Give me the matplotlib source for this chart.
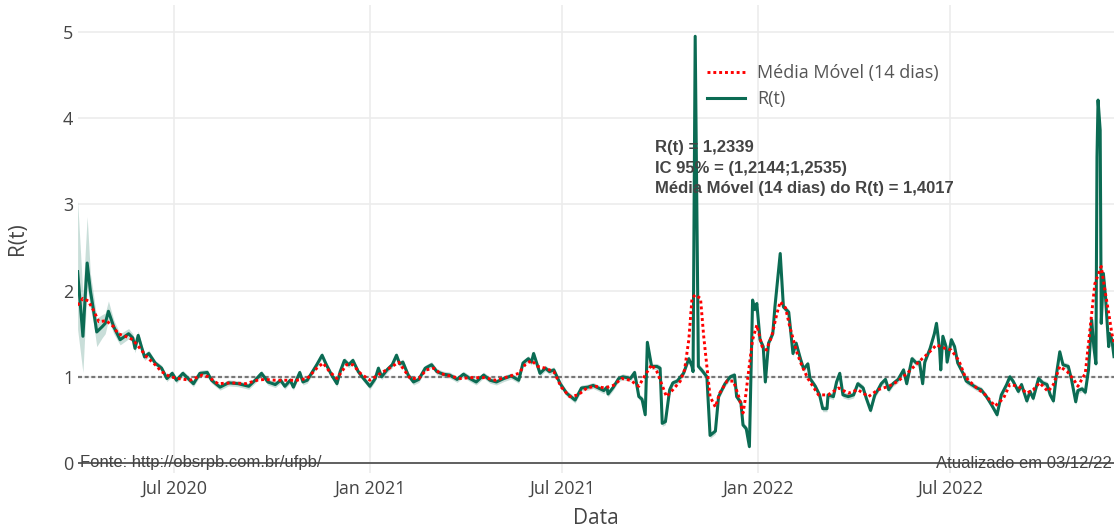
import numpy as np
import matplotlib
matplotlib.use("Agg")
import matplotlib.pyplot as plt
import matplotlib.dates as mdates

# ---- data -------------------------------------------------------------
START = np.datetime64("2020-04-01")

# R(t): days since START and estimated value
r_days = [0, 5, 9, 12, 15, 18, 23, 26, 29, 34, 40, 48, 52, 54, 57, 60, 63, 67, 73,
          79, 84, 89, 93, 99, 109, 115, 122, 126, 134, 142, 151, 161, 167, 173, 179,
          186, 191, 195, 200, 203, 209, 212, 216, 220, 225, 230, 234, 239, 244, 247,
          251, 255, 259, 264, 269, 275, 280, 283, 286, 291, 296, 300, 303, 306, 311,
          316, 321, 327, 333, 338, 344, 350, 357, 363, 369, 375, 382, 388, 394, 401,
          408, 415, 419, 424, 427, 429, 435, 440, 444, 448, 454, 460, 468, 474, 480,
          485, 490, 495, 498, 499, 504, 509, 513, 520, 524, 528, 531, 534, 536, 540,
          545, 548, 550, 553, 557, 560, 564, 570, 575, 578, 579, 581, 584, 587, 592,
          595, 600, 603, 609, 614, 618, 620, 624, 626, 629, 632, 635, 637, 639, 642,
          645, 647, 650, 654, 656, 661, 664, 669, 673, 676, 680, 683, 687, 689, 694,
          698, 701, 705, 706, 711, 714, 717, 720, 725, 730, 734, 739, 742, 746, 750,
          753, 756, 760, 763, 767, 772, 777, 780, 785, 789, 792, 795, 797, 802, 806,
          808, 811, 812, 814, 817, 818, 822, 825, 828, 833, 836, 841, 846, 850, 855,
          860, 865, 869, 874, 877, 880, 885, 888, 893, 896, 899, 904, 908, 912, 915,
          918, 921, 924, 927, 932, 935, 939, 941, 945, 948, 951, 954, 956, 958, 959,
          960, 962, 963, 965, 967, 970, 971, 973, 975]
r_vals = [2.22, 1.47, 2.32, 2.00, 1.77, 1.52, 1.58, 1.62, 1.76, 1.58, 1.43, 1.50, 1.45,
          1.33, 1.48, 1.35, 1.23, 1.27, 1.16, 1.10, 0.98, 1.04, 0.96, 1.04, 0.92, 1.04,
          1.05, 0.96, 0.88, 0.93, 0.92, 0.89, 0.96, 1.04, 0.94, 0.91, 0.96, 0.89, 0.96,
          0.88, 1.05, 0.94, 0.96, 1.04, 1.14, 1.25, 1.14, 1.02, 0.92, 1.06, 1.19, 1.14,
          1.19, 1.06, 0.98, 0.89, 0.98, 1.10, 1.00, 1.08, 1.14, 1.25, 1.15, 1.17, 1.02,
          0.94, 0.97, 1.10, 1.14, 1.06, 1.03, 1.02, 0.97, 1.03, 0.98, 0.94, 1.02, 0.96,
          0.94, 0.98, 1.01, 0.96, 1.16, 1.21, 1.17, 1.27, 1.04, 1.10, 1.06, 1.08, 0.92,
          0.81, 0.73, 0.87, 0.88, 0.90, 0.87, 0.84, 0.88, 0.80, 0.88, 0.98, 1.00, 0.98,
          1.05, 0.77, 0.74, 0.56, 1.40, 1.12, 1.12, 1.10, 0.46, 0.48, 0.85, 0.93, 0.95,
          1.04, 1.21, 1.12, 1.06, 4.95, 1.12, 1.08, 1.00, 0.32, 0.37, 0.77, 0.92, 1.00,
          1.02, 0.77, 0.70, 0.44, 0.40, 0.19, 1.89, 1.78, 1.85, 1.43, 1.35, 0.94, 1.39,
          1.50, 1.81, 2.43, 1.81, 1.75, 1.27, 1.39, 1.21, 1.09, 1.15, 0.98, 0.89, 0.79,
          0.63, 0.63, 0.79, 0.77, 0.94, 1.04, 0.79, 0.77, 0.79, 0.92, 0.87, 0.75, 0.61,
          0.79, 0.85, 0.92, 0.97, 0.85, 0.92, 0.97, 1.08, 0.92, 1.21, 1.16, 1.17, 0.92,
          1.17, 1.33, 1.50, 1.62, 1.31, 1.08, 1.47, 1.35, 1.17, 1.43, 1.35, 1.16, 1.04,
          0.95, 0.91, 0.87, 0.85, 0.77, 0.67, 0.56, 0.79, 0.91, 1.00, 0.95, 0.83, 0.91,
          0.72, 0.83, 0.75, 0.98, 0.93, 0.91, 0.79, 0.72, 1.04, 1.29, 1.14, 1.12, 0.97,
          0.71, 0.84, 0.86, 0.82, 1.08, 1.66, 1.35, 1.15, 3.55, 4.21, 3.86, 1.62, 2.20,
          1.93, 1.35, 1.50, 1.43, 1.2339]

# 95% interval: wide at the start of the series, narrow afterwards
ic_low_early = [1.55, 1.05, 2.05, 1.80, 1.62, 1.35, 1.45, 1.50, 1.66, 1.50, 1.37, 1.44,
                1.40, 1.28, 1.43, 1.31, 1.19, 1.23, 1.13]
ic_high_early = [3.05, 1.95, 2.86, 2.20, 1.95, 1.68, 1.72, 1.74, 1.88, 1.66, 1.50, 1.56,
                 1.50, 1.38, 1.53, 1.39, 1.27, 1.31, 1.19]
IC_HALF = 0.035
ic_last = (1.2144, 1.2535)

# 14-day moving average of R(t)
mm_days = [0, 5, 10, 15, 20, 27, 34, 38, 45, 52, 60, 65, 73, 79, 87, 95, 106, 117, 123,
           132, 145, 158, 169, 176, 186, 194, 206, 216, 225, 231, 237, 244, 253, 259,
           266, 275, 285, 296, 302, 306, 313, 321, 328, 335, 341, 350, 360, 369, 383,
           393, 405, 415, 421, 427, 433, 440, 448, 455, 463, 471, 479, 487, 496, 504,
           512, 520, 528, 532, 540, 545, 554, 560, 567, 571, 575, 578, 581, 586, 589,
           592, 595, 600, 604, 611, 617, 622, 626, 628, 631, 635, 639, 644, 648, 653,
           658, 661, 666, 670, 677, 681, 687, 697, 706, 716, 725, 734, 744, 753, 763,
           772, 782, 791, 800, 808, 816, 822, 829, 835, 844, 854, 863, 871, 877, 885,
           893, 899, 905, 913, 918, 924, 931, 937, 941, 948, 952, 957, 963, 966, 970,
           973, 975]
mm_vals = [1.83, 1.91, 1.88, 1.77, 1.64, 1.65, 1.58, 1.50, 1.47, 1.43, 1.31, 1.23, 1.14,
           1.06, 1.00, 0.98, 0.96, 1.02, 1.00, 0.92, 0.93, 0.92, 0.96, 0.97, 0.96, 0.96,
           0.96, 0.98, 1.10, 1.16, 1.06, 0.98, 1.14, 1.14, 1.04, 0.96, 1.04, 1.12, 1.17,
           1.10, 0.98, 0.98, 1.08, 1.10, 1.04, 1.01, 0.98, 0.99, 0.99, 0.96, 1.00, 1.04,
           1.14, 1.19, 1.12, 1.10, 1.06, 0.88, 0.77, 0.79, 0.87, 0.89, 0.87, 0.90, 0.98,
           0.96, 0.89, 0.98, 1.14, 1.06, 0.77, 0.85, 0.95, 1.08, 1.43, 1.91, 1.95, 1.91,
           1.47, 1.12, 0.77, 0.65, 0.81, 0.95, 0.95, 0.77, 0.58, 0.73, 1.04, 1.43, 1.60,
           1.35, 1.31, 1.47, 1.74, 1.87, 1.80, 1.58, 1.27, 1.14, 0.98, 0.79, 0.79, 0.87,
           0.81, 0.85, 0.77, 0.85, 0.89, 0.95, 1.06, 1.17, 1.27, 1.37, 1.33, 1.31, 1.19,
           1.00, 0.89, 0.79, 0.66, 0.75, 0.91, 0.89, 0.81, 0.85, 0.93, 0.83, 0.91, 1.12,
           1.06, 0.97, 0.89, 1.04, 1.50, 2.08, 2.28, 2.04, 1.74, 1.50, 1.4017]

y_ticks = [0, 1, 2, 3, 4, 5]
x_label = "Data"
y_label = "R(t)"
legend_labels = ["Média Móvel (14 dias)", "R(t)"]
source_text = "Fonte: http://obsrpb.com.br/ufpb/"
updated_text = "Atualizado em 03/12/22"

# ---- derived series --------------------------------------------------
n_early = len(ic_low_early)
ic_low = ic_low_early + [v - IC_HALF for v in r_vals[n_early:-1]] + [ic_last[0]]
ic_high = ic_high_early + [v + IC_HALF for v in r_vals[n_early:-1]] + [ic_last[1]]

r_dates = START + np.array(r_days).astype("timedelta64[D]")
mm_dates = START + np.array(mm_days).astype("timedelta64[D]")


def br(v):
    return f"{v:.4f}".replace(".", ",")


# ---- figure ----------------------------------------------------------
W, H = 1114, 532
fig = plt.figure(figsize=(W / 100, H / 100), dpi=100)
ax = fig.add_axes([77.6 / W, (H - 473) / H, (W - 77.6) / W, 468 / H])

TXT = "#444444"
GREEN = "#0b6b53"
SANS = ["Open Sans", "DejaVu Sans"]
ARIAL = ["Liberation Sans", "DejaVu Sans"]

ax.fill_between(r_dates, ic_low, ic_high, color=GREEN, alpha=0.22, lw=0, zorder=2)
ax.axhline(1, color="#777777", lw=1.6, dashes=(1.8, 1.2), zorder=3)
ax.axhline(0, color="#555555", lw=1.3, zorder=3)
mm_line, = ax.plot(mm_dates, mm_vals, color="red", lw=2.1, dashes=(1, 1),
                   zorder=5, label=legend_labels[0])
r_line, = ax.plot(r_dates, r_vals, color=GREEN, lw=2.2, zorder=4,
                  solid_joinstyle="round", label=legend_labels[1])

ax.set_xlim(START, START + np.timedelta64(975, "D"))
ax.set_ylim(-0.116, 5.313)
ax.set_yticks(y_ticks)
ax.set_yticklabels([str(t) for t in y_ticks])
ax.xaxis.set_major_locator(mdates.MonthLocator(bymonth=[1, 7]))
ax.xaxis.set_major_formatter(mdates.DateFormatter("%b %Y"))

ax.grid(True, color="#ececec", lw=1.2, zorder=0)
ax.set_axisbelow(True)
for s in ax.spines.values():
    s.set_visible(False)
ax.tick_params(axis="both", length=0, colors=TXT, labelsize=13)
ax.tick_params(axis="x", pad=5)
ax.tick_params(axis="y", pad=3)
for lab in ax.get_xticklabels() + ax.get_yticklabels():
    lab.set_family(SANS)

ax.set_xlabel(x_label, family=SANS, fontsize=15, color=TXT, va="center")
ax.set_ylabel(y_label, family=SANS, fontsize=15, color=TXT, va="center")
ax.xaxis.set_label_coords(0.5, (473 - 519) / 468)
ax.yaxis.set_label_coords((18 - 77.6) / (W - 77.6), 0.5)

fig.legend(handles=[mm_line, r_line], labels=legend_labels, loc="upper left",
           bbox_to_anchor=(707 / W, 1 - 64 / H), frameon=False, borderpad=0,
           borderaxespad=0, handlelength=2.1, handletextpad=0.67, labelspacing=0.45,
           prop={"family": SANS, "size": 13}, labelcolor="#555555")

# hover-style summary of the last estimate
summary = [f"R(t) = {br(r_vals[-1])}",
           f"IC 95% = ({br(ic_last[0])};{br(ic_last[1])})",
           f"Média Móvel (14 dias) do R(t) = {br(mm_vals[-1])}"]
for i, line in enumerate(summary):
    fig.text(655 / W, 1 - (147 + 21 * i) / H, line, family=ARIAL, fontsize=12,
             fontweight="bold", color=TXT, va="center", ha="left", zorder=10)

fig.text(80 / W, 1 - 463 / H, source_text, family=ARIAL, fontsize=12,
         color=TXT, va="center", ha="left")
fig.text(1112 / W, 1 - 463 / H, updated_text, family=ARIAL, fontsize=12,
         color=TXT, va="center", ha="right")

fig.savefig("out.png", dpi=100)
